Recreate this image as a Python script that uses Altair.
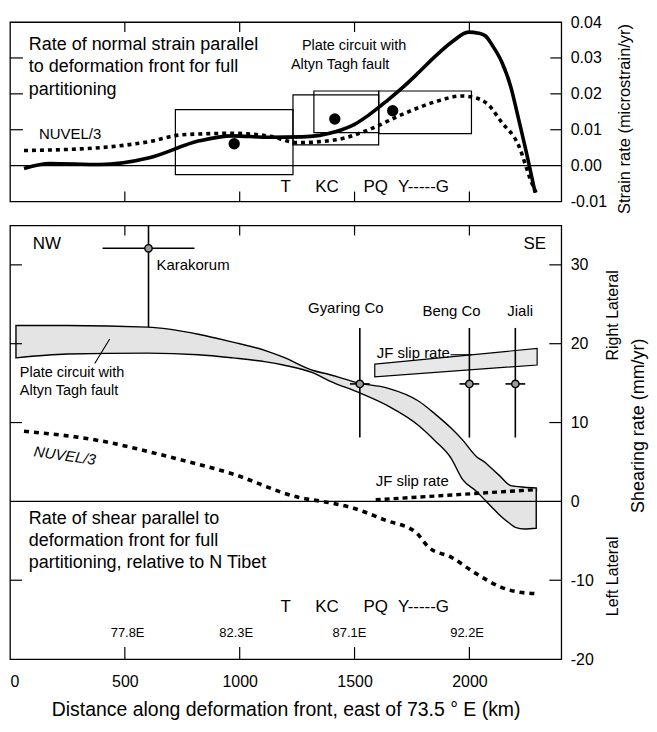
import altair as alt
import pandas as pd

FONT = "Liberation Sans, Arial, sans-serif"
XMAX = 2400
W, H1, H2 = 553, 180, 435

# ---------------- top panel data ----------------
plate_km = [61, 174, 390, 607, 824, 967, 1130, 1270, 1420, 1500, 1560, 1640, 1705, 1780, 1852, 1925, 1996, 2040, 2069, 2100, 2140, 2180, 2213, 2256, 2286]
plate_strain = [-0.0008, 0.0006, 0.0003, 0.0022, 0.0069, 0.0083, 0.0079, 0.0080, 0.0095, 0.0115, 0.0140, 0.0180, 0.0215, 0.0260, 0.0305, 0.0345, 0.0372, 0.0369, 0.0362, 0.0335, 0.0290, 0.0220, 0.0133, 0.0014, -0.0075]
nuvel_km = [61, 390, 607, 750, 967, 1130, 1250, 1419, 1562, 1705, 1852, 1965, 2026, 2082, 2139, 2213, 2269, 2290]
nuvel_strain = [0.0042, 0.0050, 0.0067, 0.0086, 0.0090, 0.0082, 0.0064, 0.0072, 0.0100, 0.0142, 0.0178, 0.0194, 0.0189, 0.0170, 0.0122, 0.0058, -0.0044, -0.0075]
box_km0 = [720, 1232, 1323, 1605]
box_km1 = [1232, 1605, 1605, 2009]
box_lo = [-0.0025, 0.0058, 0.0092, 0.0089]
box_hi = [0.0156, 0.0197, 0.0208, 0.0208]
dot_km = [976, 1414, 1666]
dot_strain = [0.0061, 0.0130, 0.0153]
strain_ticks = [-0.01, 0.0, 0.01, 0.02, 0.03, 0.04]
km_ticks = [0, 500, 1000, 1500, 2000]
region_labels = ["T", "KC", "PQ", "Y-----G"]
region_km = [1200, 1380, 1592, 1800]

# ---------------- bottom panel data ----------------
band_km = [26, 250, 600, 820, 970, 1115, 1190, 1320, 1390, 1520, 1640, 1780, 1850, 1920, 1970, 2030, 2070, 2100, 2130, 2180, 2200, 2240, 2291]
band_hi = [22.3, 22.3, 22.1, 21.2, 20.2, 19.1, 18.3, 16.6, 16.1, 15.0, 14.4, 12.7, 11.1, 9.3, 7.8, 5.7, 4.9, 4.1, 3.3, 2.0, 1.9, 1.8, 1.7]
band_lo = [18.2, 18.7, 18.8, 18.6, 18.2, 17.7, 17.3, 16.3, 15.3, 13.8, 12.2, 9.6, 7.7, 5.5, 2.8, 1.3, 0.1, -0.8, -1.7, -2.9, -3.3, -3.5, -3.4]
nuvel2_km = [61, 390, 700, 967, 1258, 1388, 1488, 1636, 1766, 1822, 1922, 2026, 2139, 2213, 2291]
nuvel2_rate = [8.9, 7.7, 5.6, 3.5, 0.5, -0.15, -0.8, -2.4, -3.9, -5.8, -7.1, -9.1, -10.9, -11.5, -11.7]
jf_km = [1588, 2295]
jf_hi = [17.4, 19.4]
jf_lo = [15.8, 17.3]
jf2_km = [1592, 2295]
jf2_rate = [0.2, 1.5]
site_names = ["Karakorum", "Gyaring Co", "Beng Co", "Jiali"]
site_km = [603, 1523, 2000, 2200]
site_rate = [32.1, 14.9, 14.9, 14.9]
site_km_err = [200, 43, 43, 43]
site_lo = [22.1, 8.1, 8.1, 8.1]
site_hi = [35.0, 22.0, 22.0, 22.0]
rate_ticks = [-20, -10, 0, 10, 20, 30]
lon_labels = ["77.8E", "82.3E", "87.1E", "92.2E"]
lon_km = [512, 985, 1478, 1990]

XS = alt.Scale(domain=[0, XMAX], nice=False, zero=False)
YS1 = alt.Scale(domain=[-0.01, 0.04], nice=False, zero=False)
YS2 = alt.Scale(domain=[-20, 35], nice=False, zero=False)

Y1AX = alt.Axis(orient="right", values=strain_ticks, format=".2f", ticks=False, domain=False,
                grid=False, labelPadding=9, labelFontSize=16, labelColor="black", title=None,
                labelExpr="replace(datum.label, '\u2212', '-')")
Y2AX = alt.Axis(orient="right", values=rate_ticks, format="d", ticks=False, domain=False, grid=False,
                labelPadding=9, labelFontSize=16, labelColor="black", title=None,
                labelExpr="replace(datum.label, '\u2212', '-')")
X2AX = alt.Axis(orient="bottom", values=km_ticks, format="d", ticks=False, domain=False, grid=False,
                labelPadding=15, labelFontSize=16, labelColor="black",
                title="Distance along deformation front, east of 73.5 \u00b0 E (km)",
                titleFontSize=19.5, titleFontWeight="normal", titlePadding=11, titleColor="black")


def x1(f):
    return alt.X(f, type="quantitative", scale=XS, axis=None)


def y1(f):
    return alt.Y(f, type="quantitative", scale=YS1, axis=Y1AX)


def x2(f):
    return alt.X(f, type="quantitative", scale=XS, axis=X2AX)


def y2(f):
    return alt.Y(f, type="quantitative", scale=YS2, axis=Y2AX)


def txt(df, **kw):
    base = dict(font=FONT, color="black")
    base.update(kw)
    return alt.Chart(df).mark_text(**base)


# ================= TOP PANEL =================
plate_df = pd.DataFrame({"km": plate_km, "v": plate_strain})
nuvel_df = pd.DataFrame({"km": nuvel_km, "v": nuvel_strain})
box_df = pd.DataFrame({"a": box_km0, "b": box_km1, "lo": box_lo, "hi": box_hi})
dot_df = pd.DataFrame({"km": dot_km, "v": dot_strain})

boxes = alt.Chart(box_df).mark_rect(fillOpacity=0, stroke="black", strokeWidth=1.2).encode(
    x=x1("a"), x2="b", y=y1("lo"), y2="hi")
zero1 = alt.Chart(pd.DataFrame({"v": [0.0]})).mark_rule(color="black", strokeWidth=1.2).encode(y=y1("v"))
plate_line = alt.Chart(plate_df).mark_line(color="black", strokeWidth=3.6, interpolate="monotone").encode(
    x=x1("km"), y=y1("v"))
nuvel_line = alt.Chart(nuvel_df).mark_line(color="black", strokeWidth=3.6, strokeDash=[4, 4],
                                           interpolate="monotone").encode(x=x1("km"), y=y1("v"))
dots = alt.Chart(dot_df).mark_point(filled=True, color="black", size=130, opacity=1).encode(
    x=x1("km"), y=y1("v"))

side_ticks1 = pd.DataFrame({"v": [0.01, 0.02, 0.03]})
lt1 = alt.Chart(side_ticks1).mark_rule(color="black", strokeWidth=1.2).encode(
    y=y1("v"), x=alt.value(0), x2=alt.value(13))
rt1 = alt.Chart(side_ticks1).mark_rule(color="black", strokeWidth=1.2).encode(
    y=y1("v"), x=alt.value(W - 11), x2=alt.value(W))
kmt = pd.DataFrame({"km": [500, 1000, 1500, 2000]})
tt1 = alt.Chart(kmt).mark_rule(color="black", strokeWidth=1.2).encode(
    x=x1("km"), y=alt.value(0), y2=alt.value(10))
bt1 = alt.Chart(kmt).mark_rule(color="black", strokeWidth=1.2).encode(
    x=x1("km"), y=alt.value(H1 - 10), y2=alt.value(H1))

top_title = pd.DataFrame({"km": [82, 82, 82], "v": [0.0336, 0.0275, 0.0211],
                          "t": ["Rate of normal strain parallel", "to deformation front for full", "partitioning"]})
t_title1 = txt(top_title, align="left", baseline="middle", fontSize=18).encode(x=x1("km"), y=y1("v"), text="t")
t_nuvel1 = txt(pd.DataFrame({"km": [126], "v": [0.0088], "t": ["NUVEL/3"]}), align="left",
               baseline="middle", fontSize=15).encode(x=x1("km"), y=y1("v"), text="t")
t_plate1 = txt(pd.DataFrame({"km": [1271, 1223], "v": [0.0333, 0.0281],
                             "t": ["Plate circuit with", "Altyn Tagh fault"]}), align="left",
               baseline="middle", fontSize=14.5).encode(x=x1("km"), y=y1("v"), text="t")
t_reg1 = txt(pd.DataFrame({"km": region_km, "v": [-0.0061] * 4, "t": region_labels}), align="center",
             baseline="middle", fontSize=17).encode(x=x1("km"), y=y1("v"), text="t")
t_ytitle1 = txt(pd.DataFrame({"v": [0.0130], "t": ["Strain rate (microstrain/yr)"]}), angle=270,
                align="center", baseline="middle", fontSize=16.5).encode(
    x=alt.value(W + 64), y=y1("v"), text="t")

top = alt.layer(boxes, zero1, nuvel_line, plate_line, dots, lt1, rt1, tt1, bt1,
                t_title1, t_nuvel1, t_plate1, t_reg1, t_ytitle1).properties(width=W, height=H1)

# ================= BOTTOM PANEL =================
band_df = pd.DataFrame({"km": band_km, "hi": band_hi, "lo": band_lo})
band = alt.Chart(band_df).mark_area(fill="#e4e4e4", stroke="black", strokeWidth=1.4,
                                    interpolate="monotone").encode(x=x2("km"), y=y2("hi"), y2="lo")
jf_df = pd.DataFrame({"km": jf_km, "hi": jf_hi, "lo": jf_lo})
jf_band = alt.Chart(jf_df).mark_area(fill="#e8e8e8", stroke="black", strokeWidth=1.2).encode(
    x=x2("km"), y=y2("hi"), y2="lo")
zero2 = alt.Chart(pd.DataFrame({"v": [0.0]})).mark_rule(color="black", strokeWidth=1.2).encode(y=y2("v"))
nuvel2 = alt.Chart(pd.DataFrame({"km": nuvel2_km, "v": nuvel2_rate})).mark_line(
    color="black", strokeWidth=3.6, strokeDash=[5, 5], interpolate="monotone").encode(x=x2("km"), y=y2("v"))
jf2 = alt.Chart(pd.DataFrame({"km": jf2_km, "v": jf2_rate})).mark_line(
    color="black", strokeWidth=3.4, strokeDash=[5, 4]).encode(x=x2("km"), y=y2("v"))

site_df = pd.DataFrame({"name": site_names, "km": site_km, "v": site_rate,
                        "k0": [k - e for k, e in zip(site_km, site_km_err)],
                        "k1": [k + e for k, e in zip(site_km, site_km_err)],
                        "lo": site_lo, "hi": site_hi})
site_v = alt.Chart(site_df).mark_rule(color="black", strokeWidth=1.6).encode(
    x=x2("km"), y=y2("lo"), y2="hi")
site_h = alt.Chart(site_df).mark_rule(color="black", strokeWidth=1.6).encode(
    x=x2("k0"), x2="k1", y=y2("v"))
site_pt = alt.Chart(site_df).mark_point(shape="circle", filled=True, fill="#9a9a9a", stroke="black",
                                        strokeWidth=1.4, size=55, opacity=1).encode(x=x2("km"), y=y2("v"))

side_ticks2 = pd.DataFrame({"v": [30, 20, 10, -10]})
lt2 = alt.Chart(side_ticks2).mark_rule(color="black", strokeWidth=1.2).encode(
    y=y2("v"), x=alt.value(0), x2=alt.value(12))
rt2 = alt.Chart(side_ticks2).mark_rule(color="black", strokeWidth=1.2).encode(
    y=y2("v"), x=alt.value(W - 12), x2=alt.value(W))
tt2 = alt.Chart(kmt).mark_rule(color="black", strokeWidth=1.2).encode(
    x=x2("km"), y=alt.value(0), y2=alt.value(10))
bt2 = alt.Chart(kmt).mark_rule(color="black", strokeWidth=1.2).encode(
    x=x2("km"), y=alt.value(H2 - 12), y2=alt.value(H2))

lead_df = pd.DataFrame({"a": [369, 1918], "b": [434, 2010], "lo": [17.5, 18.6], "hi": [20.6, 18.6]})
leaders = alt.Chart(lead_df).mark_rule(color="black", strokeWidth=1.1).encode(
    x=x2("a"), x2="b", y=y2("lo"), y2="hi")

t_nw = txt(pd.DataFrame({"km": [161], "v": [32.6], "t": ["NW"]}), align="center", baseline="middle",
           fontSize=17).encode(x=x2("km"), y=y2("v"), text="t")
t_se = txt(pd.DataFrame({"km": [2334], "v": [32.6], "t": ["SE"]}), align="right", baseline="middle",
           fontSize=17).encode(x=x2("km"), y=y2("v"), text="t")
t_kar = txt(pd.DataFrame({"km": [638], "v": [30.0], "t": ["Karakorum"]}), align="left", baseline="middle",
            fontSize=15).encode(x=x2("km"), y=y2("v"), text="t")
t_sites = txt(pd.DataFrame({"km": [1462, 1922, 2221], "v": [24.5, 24.1, 24.1],
                            "t": ["Gyaring Co", "Beng Co", "Jiali"]}), align="center", baseline="middle",
              fontSize=15).encode(x=x2("km"), y=y2("v"), text="t")
t_jf = txt(pd.DataFrame({"km": [1597, 1592], "v": [18.8, 2.6], "t": ["JF slip rate", "JF slip rate"]}),
           align="left", baseline="middle", fontSize=15).encode(x=x2("km"), y=y2("v"), text="t")
t_plate2 = txt(pd.DataFrame({"km": [43, 43], "v": [16.3, 14.0],
                             "t": ["Plate circuit with", "Altyn Tagh fault"]}), align="left",
               baseline="middle", fontSize=14.5).encode(x=x2("km"), y=y2("v"), text="t")
t_nuvel2 = txt(pd.DataFrame({"km": [239], "v": [5.8], "t": ["NUVEL/3"]}), align="center",
               baseline="middle", fontSize=15, angle=8, fontStyle="italic").encode(x=x2("km"), y=y2("v"), text="t")
t_title2 = txt(pd.DataFrame({"km": [82, 82, 82], "v": [-2.2, -5.0, -7.8],
                             "t": ["Rate of shear parallel to", "deformation front for full",
                                   "partitioning, relative to N Tibet"]}), align="left", baseline="middle",
               fontSize=18).encode(x=x2("km"), y=y2("v"), text="t")
t_reg2 = txt(pd.DataFrame({"km": region_km, "v": [-13.4] * 4, "t": region_labels}), align="center",
             baseline="middle", fontSize=17).encode(x=x2("km"), y=y2("v"), text="t")
t_lon = txt(pd.DataFrame({"km": lon_km, "v": [-16.7] * 4, "t": lon_labels}), align="center",
            baseline="middle", fontSize=13).encode(x=x2("km"), y=y2("v"), text="t")
t_lat = txt(pd.DataFrame({"v": [23.6, -9.5], "t": ["Right Lateral", "Left Lateral"]}), angle=270,
            align="center", baseline="middle", fontSize=16).encode(x=alt.value(W + 52), y=y2("v"), text="t")
t_ytitle2 = txt(pd.DataFrame({"v": [9.6], "t": ["Shearing rate (mm/yr)"]}), angle=270,
                align="center", baseline="middle", fontSize=18).encode(x=alt.value(W + 78), y=y2("v"), text="t")

bottom = alt.layer(band, jf_band, zero2, nuvel2, jf2, site_v, site_h, site_pt, lt2, rt2, tt2, bt2, leaders,
                   t_nw, t_se, t_kar, t_sites, t_jf, t_plate2, t_nuvel2, t_title2, t_reg2, t_lon,
                   t_lat, t_ytitle2).properties(width=W, height=H2)

chart = alt.vconcat(top, bottom, spacing=24, bounds="flush").properties(
    padding={"left": 0, "top": 4, "right": 0, "bottom": 0}
).configure(font=FONT).configure_view(stroke="black", strokeWidth=1.3)

chart.save("out.html", embed_options={"renderer": "svg", "actions": False})
